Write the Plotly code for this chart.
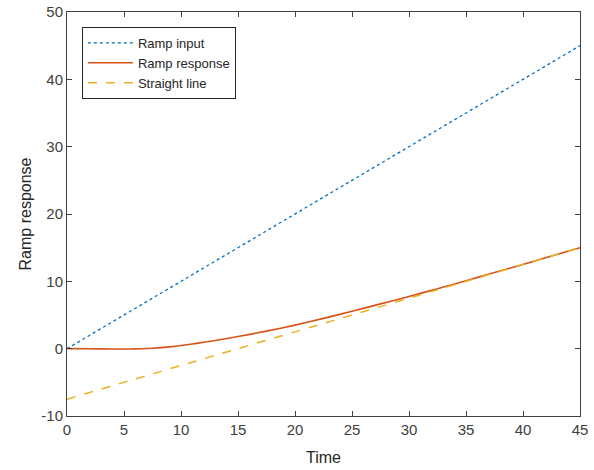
import plotly.graph_objects as go

# Data
t_input = [0, 45]
ramp_input = [0, 45]

t_resp = [0, 2, 4, 5, 6, 7, 8, 9, 10, 11, 12, 13.5, 15, 17.5, 20, 22.5, 25, 27.5, 30, 32.5, 35, 37.5, 40, 42.5, 45]
ramp_resp = [0, -0.01, -0.04, -0.05, -0.03, 0.02, 0.12, 0.27, 0.47, 0.7, 0.95, 1.35, 1.8, 2.6, 3.5, 4.5, 5.55, 6.65, 7.75, 8.9, 10.1, 11.3, 12.5, 13.75, 15.0]

t_line = [0, 45]
straight = [-7.5, 15]

x_ticks = [0, 5, 10, 15, 20, 25, 30, 35, 40, 45]
y_ticks = [-10, 0, 10, 20, 30, 40, 50]
y_tick_text = ["-10", "0", "10", "20", "30", "40", "50"]

fig = go.Figure()
fig.add_trace(go.Scatter(x=t_input, y=ramp_input, mode="lines", name="Ramp input",
                         line=dict(color="#0072BD", width=1.3, dash="dot")))
fig.add_trace(go.Scatter(x=t_resp, y=ramp_resp, mode="lines", name="Ramp response",
                         line=dict(color="#D95319", width=1.6, shape="spline", smoothing=0.6)))
fig.add_trace(go.Scatter(x=t_line, y=straight, mode="lines", name="Straight line",
                         line=dict(color="#EDB120", width=1.5, dash="dash")))

axis_common = dict(showgrid=False, zeroline=False, showline=True, linecolor="#404040",
                   linewidth=1, mirror="allticks", ticks="inside", ticklen=5, automargin=False,
                   tickcolor="#404040", tickfont=dict(family="Liberation Sans, Arial", size=15, color="#404040"))

fig.update_layout(
    width=594, height=470,
    margin=dict(l=67, r=14, t=12, b=54),
    paper_bgcolor="white", plot_bgcolor="white",
    font=dict(family="Liberation Sans, Arial", color="#262626"),
    xaxis=dict(range=[0, 45], tickvals=x_ticks,
               title=dict(text="Time", font=dict(size=16, color="#262626"), standoff=14), **axis_common),
    yaxis=dict(range=[-10, 50], tickvals=y_ticks, ticktext=y_tick_text,
               title=dict(text="Ramp response", font=dict(size=16, color="#262626"), standoff=5), **axis_common),
    legend=dict(x=0.029, y=0.963, xanchor="left", yanchor="top", bgcolor="white",
                bordercolor="#262626", borderwidth=1, font=dict(size=13, color="#262626"),
                tracegroupgap=0, itemwidth=45),
    showlegend=True,
)

fig.write_html("out.html")
